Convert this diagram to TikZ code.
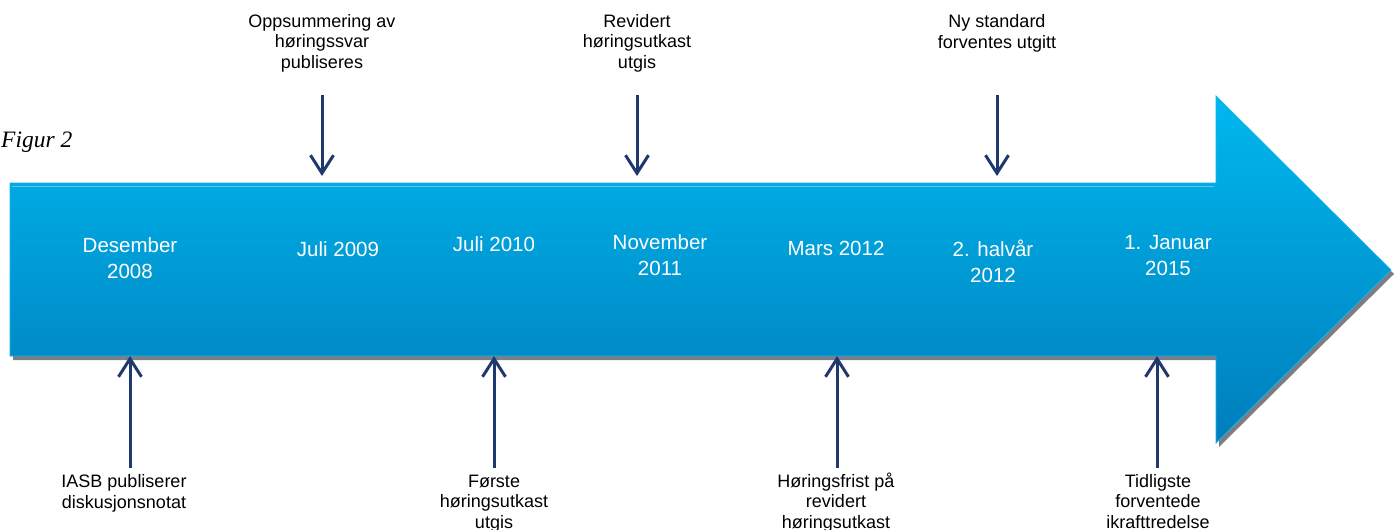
\documentclass[tikz,border=0pt]{standalone}
\usepackage{fontspec}
\setmainfont{Liberation Sans}
\newfontfamily\figfont{Liberation Serif}
\usetikzlibrary{arrows.meta}
\definecolor{navy}{RGB}{31,56,110}
\definecolor{bluetop}{RGB}{0,184,238}
\definecolor{bluebot}{RGB}{0,125,188}
\definecolor{blueedge}{RGB}{20,180,240}
\definecolor{shadowgray}{RGB}{125,125,130}
\begin{document}
\begin{tikzpicture}[x=1pt,y=-1pt,
  datelbl/.style={text=white, font=\fontsize{20.5}{25.5}\selectfont, align=center, inner sep=0pt, anchor=base},
  evlbl/.style={text=black, font=\fontsize{18}{20.5}\selectfont, align=center, inner sep=0pt, anchor=base},
  evarrow/.style={draw=navy, line width=3pt, -{Straight Barb[length=18pt,width=23pt,line width=3pt]}}]
\useasboundingbox (0,0) rectangle (1398,530);
% shadow
\fill[shadowgray] (13,187) -- (1219,187) -- (1219,100) -- (1394,274) -- (1219,447) -- (1219,360) -- (13,360) -- cycle;
% main arrow
\shade[top color=bluetop, bottom color=bluebot, draw=blueedge, line width=0.8pt]
  (10,183) -- (1216,183) -- (1216,96) -- (1391,270) -- (1216,443) -- (1216,356) -- (10,356) -- cycle;
\draw[white, opacity=0.35, line width=0.8pt] (12,186) -- (1214,186);

\node[anchor=base west, inner sep=0pt, font=\figfont\itshape\fontsize{23.5}{26}\selectfont] (fig) at (1,147) {Figur 2};

% dates (anchor = baseline of last line)
\node[datelbl] (d1) at (130,278) {Desember\\2008};
\node[datelbl] (d2) at (338,256) {Juli 2009};
\node[datelbl] (d3) at (494,251) {Juli 2010};
\node[datelbl] (d4) at (660,275) {November\\2011};
\node[datelbl] (d5) at (836,255) {Mars 2012};
\node[datelbl] (d6) at (993,282) {2. halvår\\2012};
\node[datelbl] (d7) at (1168,275) {1. Januar\\2015};

% top events
\node[evlbl] (t1) at (322,68) {Oppsummering av\\høringssvar\\publiseres};
\node[evlbl] (t2) at (637,68) {Revidert\\høringsutkast\\utgis};
\node[evlbl] (t3) at (997,48) {Ny standard\\forventes utgitt};

% bottom events
\node[evlbl] (b1) at (124,508) {IASB publiserer\\diskusjonsnotat};
\node[evlbl] (b2) at (494,528) {Første\\høringsutkast\\utgis};
\node[evlbl] (b3) at (836,528) {Høringsfrist på\\revidert\\høringsutkast};
\node[evlbl] (b4) at (1158,528) {Tidligste\\forventede\\ikrafttredelse};

% arrow end points
\coordinate (t1s) at (322,95);  \coordinate (t1e) at (322,176);
\coordinate (t2s) at (637,95);  \coordinate (t2e) at (637,176);
\coordinate (t3s) at (997,95);  \coordinate (t3e) at (997,176);
\coordinate (b1s) at (130,468); \coordinate (b1e) at (130,356);
\coordinate (b2s) at (494,468); \coordinate (b2e) at (494,356);
\coordinate (b3s) at (837,468); \coordinate (b3e) at (837,356);
\coordinate (b4s) at (1157,468); \coordinate (b4e) at (1157,356);

\foreach \a in {t1,t2,t3,b1,b2,b3,b4}
  \draw[evarrow] (\a s) -- (\a e);
\end{tikzpicture}
\end{document}
